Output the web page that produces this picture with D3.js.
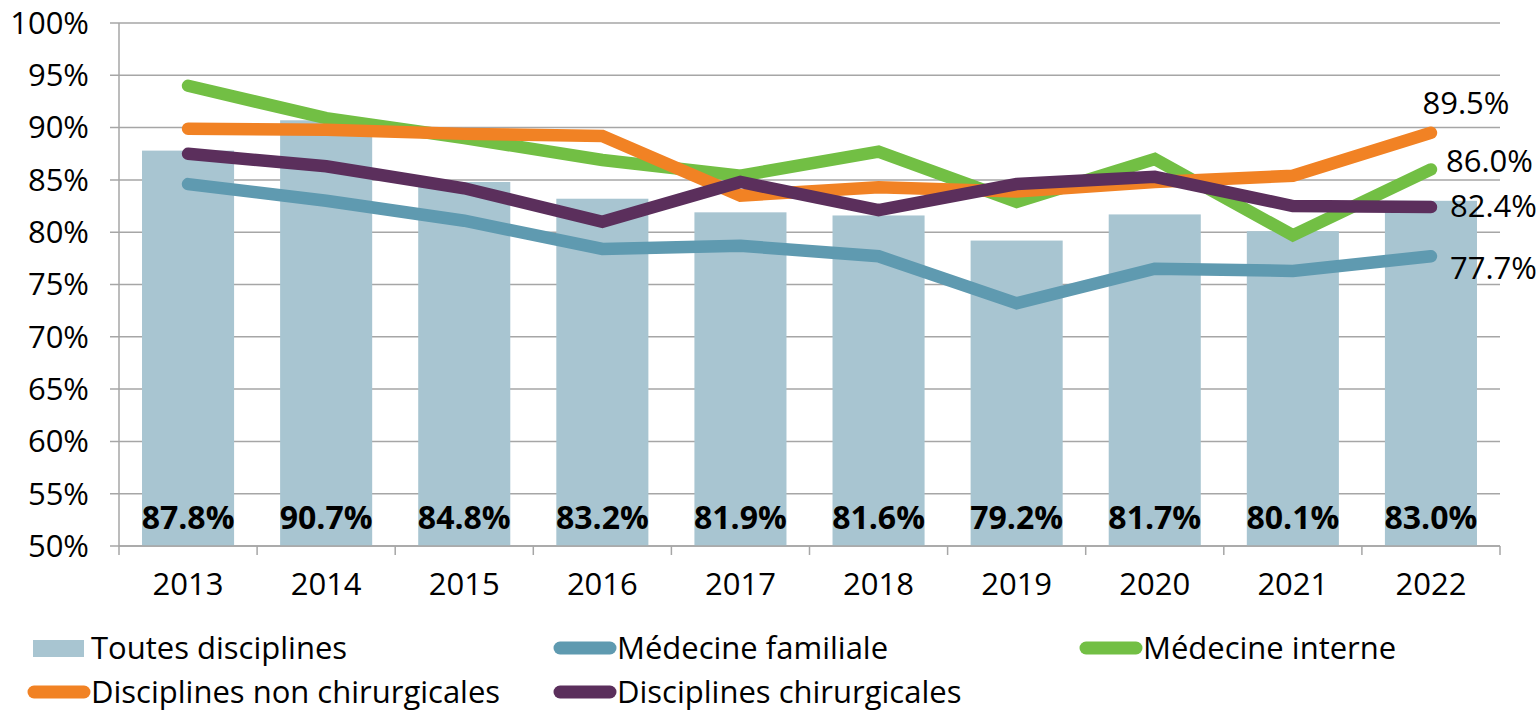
<!DOCTYPE html>
<html>
<head>
<meta charset="utf-8">
<script src="https://cdn.jsdelivr.net/npm/d3@7/dist/d3.min.js"></script>
<style>
  html, body { margin: 0; padding: 0; background: #fff; }
  svg { display: block; font-family: "Open Sans", "Noto Sans", sans-serif; }
</style>
</head>
<body>
<svg id="chart" width="1539" height="711"></svg>
<script>
// ---- Data ----
const years = ["2013","2014","2015","2016","2017","2018","2019","2020","2021","2022"];
const toutesDisciplines = [87.8, 90.7, 84.8, 83.2, 81.9, 81.6, 79.2, 81.7, 80.1, 83.0];
const medecineFamiliale = [84.6, 83.0, 81.1, 78.4, 78.7, 77.7, 73.2, 76.5, 76.3, 77.7];
const medecineInterne = [94.0, 90.9, 89.0, 86.9, 85.4, 87.7, 82.9, 87.0, 79.7, 86.0];
const nonChirurgicales = [89.9, 89.8, 89.4, 89.2, 83.5, 84.3, 83.9, 84.8, 85.4, 89.5];
const chirurgicales = [87.5, 86.3, 84.2, 81.0, 84.8, 82.1, 84.6, 85.3, 82.5, 82.4];
const yTicks = [50, 55, 60, 65, 70, 75, 80, 85, 90, 95, 100];

const seriesNames = ["Toutes disciplines", "Médecine familiale", "Médecine interne",
                     "Disciplines non chirurgicales", "Disciplines chirurgicales"];

// ---- Styles ----
const colors = {
  bar: "#A8C5D1",
  fam: "#5F9AB0",
  int: "#72BF44",
  nonchir: "#F18224",
  chir: "#5B2F5C",
  grid: "#A6A6A6"
};
const FS = 31;

const lineSeries = [
  { name: seriesNames[1], values: medecineFamiliale, color: colors.fam, endDx: 19, endDy: 12, anchor: "start" },
  { name: seriesNames[2], values: medecineInterne, color: colors.int, endDx: 15, endDy: -8, anchor: "start" },
  { name: seriesNames[3], values: nonChirurgicales, color: colors.nonchir, endDx: 35, endDy: -30, anchor: "middle" },
  { name: seriesNames[4], values: chirurgicales, color: colors.chir, endDx: 19, endDy: -1, anchor: "start" }
];

const svg = d3.select("#chart");
const mLeft = 119, mRight = 1500, mTop = 23, mBottom = 546;

const x = d3.scaleBand().domain(years).range([mLeft, mRight]).paddingInner(1/3).paddingOuter(1/6);
const xStep = x.step();
const xc = d => x(d) + x.bandwidth() / 2;
const y = d3.scaleLinear().domain([50, 100]).range([mBottom, mTop]);

// gridlines
svg.append("g").selectAll("line").data(yTicks).join("line")
  .attr("x1", mLeft - 9).attr("x2", mRight)
  .attr("y1", d => y(d)).attr("y2", d => y(d))
  .attr("stroke", colors.grid).attr("stroke-width", 1.5);

// y axis line
svg.append("line").attr("x1", mLeft).attr("x2", mLeft).attr("y1", mTop).attr("y2", mBottom)
  .attr("stroke", colors.grid).attr("stroke-width", 1.5);

// y tick labels
svg.append("g").selectAll("text").data(yTicks).join("text")
  .attr("x", 89).attr("y", d => y(d)).attr("dy", "0.35em")
  .attr("text-anchor", "end").attr("font-size", FS).attr("fill", "#000")
  .text(d => d + "%");

// x axis ticks at band boundaries
const boundaries = d3.range(years.length + 1).map(i => mLeft + i * xStep);
svg.append("g").selectAll("line").data(boundaries).join("line")
  .attr("x1", d => d).attr("x2", d => d).attr("y1", mBottom).attr("y2", mBottom + 9)
  .attr("stroke", colors.grid).attr("stroke-width", 1.5);

// x labels
svg.append("g").selectAll("text").data(years).join("text")
  .attr("x", d => xc(d)).attr("y", 584).attr("dy", "0.35em")
  .attr("text-anchor", "middle").attr("font-size", FS).attr("fill", "#000")
  .text(d => d);

// bars
svg.append("g").selectAll("rect").data(years).join("rect")
  .attr("x", d => x(d)).attr("width", x.bandwidth())
  .attr("y", (d, i) => y(toutesDisciplines[i]))
  .attr("height", (d, i) => mBottom - y(toutesDisciplines[i]))
  .attr("fill", colors.bar);

// x axis line on top of bars
svg.append("line").attr("x1", mLeft).attr("x2", mRight).attr("y1", mBottom).attr("y2", mBottom)
  .attr("stroke", colors.grid).attr("stroke-width", 1.5);

// bar labels
svg.append("g").selectAll("text").data(years).join("text")
  .attr("x", d => xc(d)).attr("y", 518).attr("dy", "0.35em")
  .attr("text-anchor", "middle").attr("font-size", 32).attr("font-weight", "bold").attr("fill", "#000")
  .text((d, i) => toutesDisciplines[i].toFixed(1) + "%");

// lines
const line = d3.line().x((d, i) => xc(years[i])).y(d => y(d));
lineSeries.forEach(s => {
  svg.append("path").datum(s.values)
    .attr("d", line).attr("fill", "none")
    .attr("stroke", s.color).attr("stroke-width", 12.5)
    .attr("stroke-linecap", "round").attr("stroke-linejoin", "miter");
});

// end labels
lineSeries.forEach(s => {
  const last = s.values.length - 1;
  svg.append("text")
    .attr("x", xc(years[last]) + s.endDx)
    .attr("y", y(s.values[last]) + s.endDy).attr("dy", "0.35em")
    .attr("text-anchor", s.anchor).attr("font-size", FS).attr("fill", "#000")
    .text(s.values[last].toFixed(1) + "%");
});

// legend
const legendItems = [
  { name: seriesNames[0], type: "rect", color: colors.bar, col: 0, row: 0 },
  { name: seriesNames[1], type: "line", color: colors.fam, col: 1, row: 0 },
  { name: seriesNames[2], type: "line", color: colors.int, col: 2, row: 0 },
  { name: seriesNames[3], type: "line", color: colors.nonchir, col: 0, row: 1 },
  { name: seriesNames[4], type: "line", color: colors.chir, col: 1, row: 1 }
];
const lg = svg.append("g");
legendItems.forEach(it => {
  const tx = 91 + it.col * 526;
  const ty = 648 + it.row * 44;
  if (it.type === "rect") {
    lg.append("rect").attr("x", tx - 58).attr("y", ty - 8).attr("width", 51).attr("height", 17)
      .attr("fill", it.color);
  } else {
    lg.append("line").attr("x1", tx - 57).attr("x2", tx - 7).attr("y1", ty).attr("y2", ty)
      .attr("stroke", it.color).attr("stroke-width", 13).attr("stroke-linecap", "round");
  }
  lg.append("text").attr("x", tx).attr("y", ty).attr("dy", "0.35em")
    .attr("font-size", FS).attr("fill", "#000").text(it.name);
});
</script>
</body>
</html>
